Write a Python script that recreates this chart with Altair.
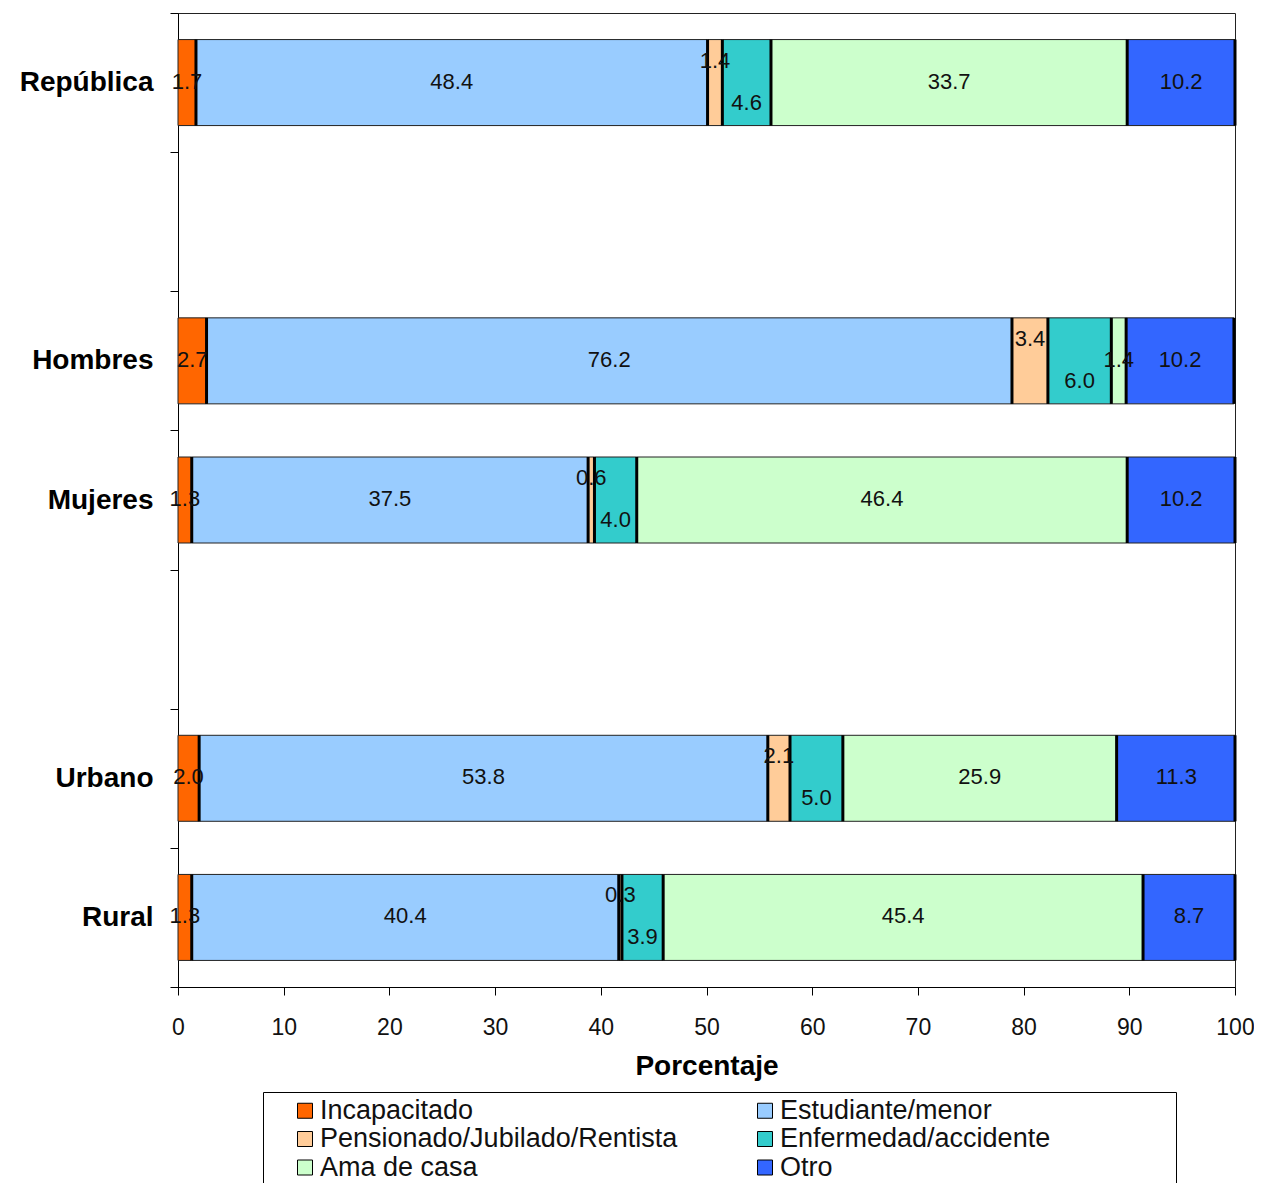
import altair as alt
import pandas as pd

categories = ["República", "Hombres", "Mujeres", "Urbano", "Rural"]
series = ["Incapacitado", "Estudiante/menor", "Pensionado/Jubilado/Rentista",
          "Enfermedad/accidente", "Ama de casa", "Otro"]
incapacitado = [1.7, 2.7, 1.3, 2.0, 1.3]
estudiante = [48.4, 76.2, 37.5, 53.8, 40.4]
pensionado = [1.4, 3.4, 0.6, 2.1, 0.3]
enfermedad = [4.6, 6.0, 4.0, 5.0, 3.9]
ama_de_casa = [33.7, 1.4, 46.4, 25.9, 45.4]
otro = [10.2, 10.2, 10.2, 11.3, 8.7]
colors = ["#FF6600", "#99CCFF", "#FFCC99", "#33CCCC", "#CCFFCC", "#3366FF"]
y_domain = ["República", " ", "Hombres", "Mujeres", "  ", "Urbano", "Rural"]
x_ticks = list(range(0, 101, 10))

values = [incapacitado, estudiante, pensionado, enfermedad, ama_de_casa, otro]
rows = []
for ci, cat in enumerate(categories):
    start = 0.0
    for si, s in enumerate(series):
        v = values[si][ci]
        rows.append({"cat": cat, "series": s, "value": v, "start": start,
                     "end": start + v, "mid": start + v / 2})
        start += v
df = pd.DataFrame(rows)

FONT = "Liberation Sans"
BAR_H = 86
xscale = alt.Scale(domain=[0, 100], clamp=True, nice=False)
yscale = alt.Scale(domain=y_domain, paddingInner=0, paddingOuter=0)

yenc = alt.Y("cat:N", scale=yscale, sort=y_domain,
             axis=alt.Axis(title=None, labelFont=FONT, labelFontSize=28,
                           labelFontWeight="bold", labelColor="black",
                           tickBand="extent", tickSize=8, tickColor="black",
                           domainColor="black", labelPadding=17, grid=False))

base = alt.Chart(df)

bars = base.mark_bar(stroke="#222", strokeWidth=1, height=BAR_H).encode(
    x=alt.X("start:Q", scale=xscale,
            axis=alt.Axis(title="Porcentaje", values=x_ticks, tickSize=8,
                          tickColor="black", domainColor="black",
                          labelFont=FONT, labelFontSize=23, labelColor="#111",
                          labelFlush=False, labelPadding=21,
                          titleFont=FONT, titleFontSize=28,
                          titleFontWeight="bold", titleColor="black",
                          titlePadding=13, grid=False)),
    x2="end:Q",
    y=yenc,
    color=alt.Color("series:N", scale=alt.Scale(domain=series, range=colors),
                    legend=alt.Legend(
                        title=" ", titleOrient="right", titlePadding=121,
                        orient="none", legendX=85, legendY=1079,
                        columns=2, direction="horizontal", gridAlign="all",
                        symbolType="square", symbolSize=225,
                        symbolStrokeColor="black", symbolStrokeWidth=1,
                        symbolOffset=23.5, labelOffset=1.5,
                        labelFont=FONT, labelFontSize=27, labelColor="#111",
                        labelLimit=600, rowPadding=0.5, columnPadding=50,
                        padding=5, strokeColor="black", fillColor="white")),
)

seps = base.mark_tick(orient="vertical", thickness=3, size=BAR_H, color="black",
                      opacity=1, filled=True).encode(
    x=alt.X("end:Q", scale=xscale), y=alt.Y("cat:N", scale=yscale, sort=y_domain))

def text_layer(sel, dy):
    return base.transform_filter(
        alt.FieldOneOfPredicate(field="series", oneOf=sel)
    ).mark_text(font=FONT, fontSize=22, color="#111", dy=dy).encode(
        x=alt.X("mid:Q", scale=xscale),
        y=alt.Y("cat:N", scale=yscale, sort=y_domain),
        text=alt.Text("value:Q", format=".1f"),
    )

others = [s for s in series if s not in ("Pensionado/Jubilado/Rentista", "Enfermedad/accidente")]
t_main = text_layer(others, -1)
t_up = text_layer(["Pensionado/Jubilado/Rentista"], -22)
t_down = text_layer(["Enfermedad/accidente"], 20)

chart = alt.layer(bars, seps, t_main, t_up, t_down).properties(
    width=1057, height=974,
    autosize=alt.AutoSizeParams(type="none"),
    padding={"left": 170, "top": 5, "right": 19, "bottom": 196},
).configure_view(stroke="#222", strokeWidth=1)

chart.save("out.html", embed_options={"renderer": "svg", "actions": False})
